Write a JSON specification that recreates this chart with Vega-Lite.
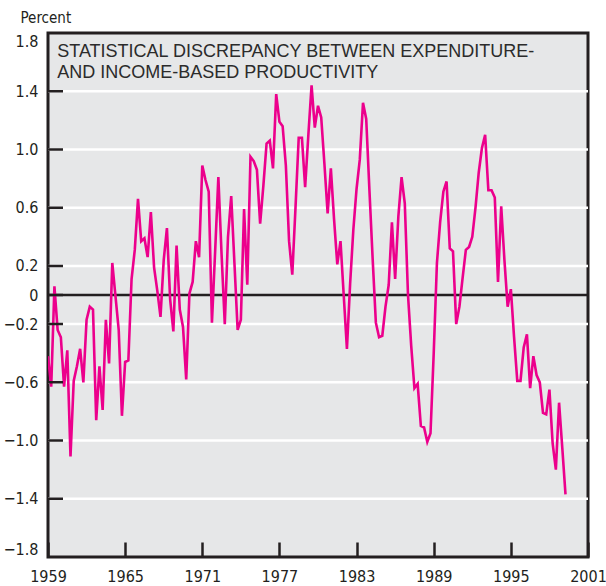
{
  "$schema": "https://vega.github.io/schema/vega-lite/v6.json",
  "autosize": {"type": "none"},
  "padding": {"left": 48, "top": 33, "right": 18, "bottom": 29},
  "width": 540,
  "height": 524,
  "background": "white",
  "config": {
    "view": {"stroke": "#231f20", "strokeWidth": 3, "fill": "#e6e7e8"},
    "axis": {
      "labelFont": "Liberation Sans Narrow, DejaVu Sans Condensed, sans-serif",
      "labelFontSize": 16,
      "labelColor": "#231f20",
      "titleFont": "Liberation Sans Narrow, DejaVu Sans Condensed, sans-serif",
      "titleFontSize": 15,
      "titleFontWeight": "normal",
      "titleColor": "#231f20",
      "domain": false,
      "grid": false,
      "zindex": 1,
      "tickColor": "#231f20",
      "tickWidth": 2.5
    }
  },
  "datasets": {
    "series": [
      {"t": 1959.00, "v": -0.42}, {"t": 1959.25, "v": -0.63}, {"t": 1959.50, "v": 0.06}, {"t": 1959.75, "v": -0.24},
      {"t": 1960.00, "v": -0.29}, {"t": 1960.25, "v": -0.63}, {"t": 1960.50, "v": -0.38}, {"t": 1960.75, "v": -1.11},
      {"t": 1961.00, "v": -0.59}, {"t": 1961.25, "v": -0.49}, {"t": 1961.50, "v": -0.37}, {"t": 1961.75, "v": -0.60},
      {"t": 1962.00, "v": -0.17}, {"t": 1962.25, "v": -0.08}, {"t": 1962.50, "v": -0.10}, {"t": 1962.75, "v": -0.86},
      {"t": 1963.00, "v": -0.49}, {"t": 1963.25, "v": -0.79}, {"t": 1963.50, "v": -0.17}, {"t": 1963.75, "v": -0.47},
      {"t": 1964.00, "v": 0.22}, {"t": 1964.25, "v": -0.01}, {"t": 1964.50, "v": -0.24}, {"t": 1964.75, "v": -0.83},
      {"t": 1965.00, "v": -0.46}, {"t": 1965.25, "v": -0.45}, {"t": 1965.50, "v": 0.11}, {"t": 1965.75, "v": 0.31},
      {"t": 1966.00, "v": 0.66}, {"t": 1966.25, "v": 0.37}, {"t": 1966.50, "v": 0.39}, {"t": 1966.75, "v": 0.26},
      {"t": 1967.00, "v": 0.57}, {"t": 1967.25, "v": 0.19}, {"t": 1967.50, "v": 0.03}, {"t": 1967.75, "v": -0.15},
      {"t": 1968.00, "v": 0.24}, {"t": 1968.25, "v": 0.46}, {"t": 1968.50, "v": -0.03}, {"t": 1968.75, "v": -0.25},
      {"t": 1969.00, "v": 0.34}, {"t": 1969.25, "v": -0.10}, {"t": 1969.50, "v": -0.22}, {"t": 1969.75, "v": -0.58},
      {"t": 1970.00, "v": 0.01}, {"t": 1970.25, "v": 0.09}, {"t": 1970.50, "v": 0.37}, {"t": 1970.75, "v": 0.26},
      {"t": 1971.00, "v": 0.89}, {"t": 1971.25, "v": 0.79}, {"t": 1971.50, "v": 0.71}, {"t": 1971.75, "v": -0.19},
      {"t": 1972.00, "v": 0.30}, {"t": 1972.25, "v": 0.81}, {"t": 1972.50, "v": 0.28}, {"t": 1972.75, "v": -0.20},
      {"t": 1973.00, "v": 0.40}, {"t": 1973.25, "v": 0.68}, {"t": 1973.50, "v": 0.22}, {"t": 1973.75, "v": -0.24},
      {"t": 1974.00, "v": -0.17}, {"t": 1974.25, "v": 0.59}, {"t": 1974.50, "v": 0.07}, {"t": 1974.75, "v": 0.95},
      {"t": 1975.00, "v": 0.92}, {"t": 1975.25, "v": 0.86}, {"t": 1975.50, "v": 0.49}, {"t": 1975.75, "v": 0.75},
      {"t": 1976.00, "v": 1.04}, {"t": 1976.25, "v": 1.06}, {"t": 1976.50, "v": 0.87}, {"t": 1976.75, "v": 1.38},
      {"t": 1977.00, "v": 1.19}, {"t": 1977.25, "v": 1.16}, {"t": 1977.50, "v": 0.89}, {"t": 1977.75, "v": 0.37},
      {"t": 1978.00, "v": 0.14}, {"t": 1978.25, "v": 0.60}, {"t": 1978.50, "v": 1.08}, {"t": 1978.75, "v": 1.08},
      {"t": 1979.00, "v": 0.74}, {"t": 1979.25, "v": 1.10}, {"t": 1979.50, "v": 1.44}, {"t": 1979.75, "v": 1.15},
      {"t": 1980.00, "v": 1.30}, {"t": 1980.25, "v": 1.22}, {"t": 1980.50, "v": 0.90}, {"t": 1980.75, "v": 0.56},
      {"t": 1981.00, "v": 0.87}, {"t": 1981.25, "v": 0.52}, {"t": 1981.50, "v": 0.21}, {"t": 1981.75, "v": 0.37},
      {"t": 1982.00, "v": 0.00}, {"t": 1982.25, "v": -0.37}, {"t": 1982.50, "v": 0.08}, {"t": 1982.75, "v": 0.45},
      {"t": 1983.00, "v": 0.73}, {"t": 1983.25, "v": 0.93}, {"t": 1983.50, "v": 1.32}, {"t": 1983.75, "v": 1.21},
      {"t": 1984.00, "v": 0.72}, {"t": 1984.25, "v": 0.25}, {"t": 1984.50, "v": -0.19}, {"t": 1984.75, "v": -0.29},
      {"t": 1985.00, "v": -0.28}, {"t": 1985.25, "v": -0.08}, {"t": 1985.50, "v": 0.07}, {"t": 1985.75, "v": 0.50},
      {"t": 1986.00, "v": 0.11}, {"t": 1986.25, "v": 0.54}, {"t": 1986.50, "v": 0.81}, {"t": 1986.75, "v": 0.63},
      {"t": 1987.00, "v": 0.00}, {"t": 1987.25, "v": -0.35}, {"t": 1987.50, "v": -0.64}, {"t": 1987.75, "v": -0.61},
      {"t": 1988.00, "v": -0.90}, {"t": 1988.25, "v": -0.91}, {"t": 1988.50, "v": -1.01}, {"t": 1988.75, "v": -0.95},
      {"t": 1989.00, "v": -0.40}, {"t": 1989.25, "v": 0.22}, {"t": 1989.50, "v": 0.50}, {"t": 1989.75, "v": 0.71},
      {"t": 1990.00, "v": 0.78}, {"t": 1990.25, "v": 0.32}, {"t": 1990.50, "v": 0.30}, {"t": 1990.75, "v": -0.20},
      {"t": 1991.00, "v": -0.08}, {"t": 1991.25, "v": 0.12}, {"t": 1991.50, "v": 0.31}, {"t": 1991.75, "v": 0.33},
      {"t": 1992.00, "v": 0.40}, {"t": 1992.25, "v": 0.60}, {"t": 1992.50, "v": 0.84}, {"t": 1992.75, "v": 1.01},
      {"t": 1993.00, "v": 1.10}, {"t": 1993.25, "v": 0.72}, {"t": 1993.50, "v": 0.72}, {"t": 1993.75, "v": 0.67},
      {"t": 1994.00, "v": 0.09}, {"t": 1994.25, "v": 0.61}, {"t": 1994.50, "v": 0.24}, {"t": 1994.75, "v": -0.08},
      {"t": 1995.00, "v": 0.04}, {"t": 1995.25, "v": -0.29}, {"t": 1995.50, "v": -0.59}, {"t": 1995.75, "v": -0.59},
      {"t": 1996.00, "v": -0.36}, {"t": 1996.25, "v": -0.27}, {"t": 1996.50, "v": -0.64}, {"t": 1996.75, "v": -0.42},
      {"t": 1997.00, "v": -0.55}, {"t": 1997.25, "v": -0.60}, {"t": 1997.50, "v": -0.81}, {"t": 1997.75, "v": -0.82},
      {"t": 1998.00, "v": -0.65}, {"t": 1998.25, "v": -1.02}, {"t": 1998.50, "v": -1.20}, {"t": 1998.75, "v": -0.74},
      {"t": 1999.00, "v": -1.05}, {"t": 1999.25, "v": -1.37}
    ],
    "gridlines": [
      {"g": -1.4}, {"g": -1.0}, {"g": -0.6}, {"g": -0.2}, {"g": 0.2}, {"g": 0.6}, {"g": 1.0}, {"g": 1.4}, {"g": 0}
    ]
  },
  "layer": [
    {
      "data": {"name": "gridlines"},
      "mark": {"type": "rule", "strokeWidth": 2.5},
      "encoding": {
        "y": {
          "field": "g", "type": "quantitative",
          "scale": {"domain": [-1.8, 1.8], "nice": false, "zero": false},
          "axis": {
            "title": "Percent",
            "titleAngle": 0,
            "titleAlign": "left",
            "titleBaseline": "middle",
            "titleX": -28,
            "titleY": -16,
            "values": [-1.8, -1.4, -1.0, -0.6, -0.2, 0, 0.2, 0.6, 1.0, 1.4, 1.8],
            "labelExpr": "datum.value == 0 ? '0' : format(datum.value, '.1f')",
            "grid": false,
            "ticks": false,
            "labelPadding": 10,
            "labelFlush": true,
            "labelOverlap": false,
            "zindex": 1
          }
        },
        "color": {"condition": {"test": "datum.g === 0", "value": "#231f20"}, "value": "white"}
      }
    },
    {
      "data": {"name": "series"},
      "mark": {"type": "line", "color": "#ec008c", "strokeWidth": 2.6, "clip": true},
      "encoding": {
        "x": {
          "field": "t", "type": "quantitative",
          "scale": {"domain": [1959, 2001], "nice": false, "zero": false},
          "axis": {
            "title": null,
            "values": [1959, 1965, 1971, 1977, 1983, 1989, 1995, 2001],
            "format": "d",
            "grid": false,
            "tickSize": -15,
            "labelPadding": 26,
            "labelFlush": false,
            "labelOverlap": false,
            "zindex": 1
          }
        },
        "y": {
          "field": "v", "type": "quantitative",
          "scale": {"domain": [-1.8, 1.8], "nice": false, "zero": false},
          "axis": {
            "title": "Percent",
            "titleAngle": 0,
            "titleAlign": "left",
            "titleBaseline": "middle",
            "titleX": -28,
            "titleY": -16,
            "values": [-1.8, -1.4, -1.0, -0.6, -0.2, 0, 0.2, 0.6, 1.0, 1.4, 1.8],
            "labelExpr": "datum.value == 0 ? '0' : format(datum.value, '.1f')",
            "grid": false,
            "ticks": false,
            "labelPadding": 10,
            "labelFlush": true,
            "labelOverlap": false,
            "zindex": 1
          }
        }
      }
    },
    {
      "data": {"name": "gridlines"},
      "mark": {"type": "tick", "orient": "horizontal", "size": 15, "thickness": 2.5, "color": "#231f20", "opacity": 1},
      "encoding": {
        "y": {"field": "g", "type": "quantitative"},
        "x": {"datum": 1959.583, "type": "quantitative"}
      }
    },
    {
      "data": {"values": [{}]},
      "mark": {
        "type": "text",
        "align": "left",
        "baseline": "alphabetic",
        "font": "Liberation Sans",
        "fontSize": 18,
        "fontWeight": "normal",
        "lineHeight": 21.7,
        "color": "#2b2b2b",
        "text": ["STATISTICAL DISCREPANCY BETWEEN EXPENDITURE-", "AND INCOME-BASED PRODUCTIVITY"]
      },
      "encoding": {
        "x": {"datum": 1959.72, "type": "quantitative"},
        "y": {"datum": 1.638, "type": "quantitative"}
      }
    }
  ]
}
